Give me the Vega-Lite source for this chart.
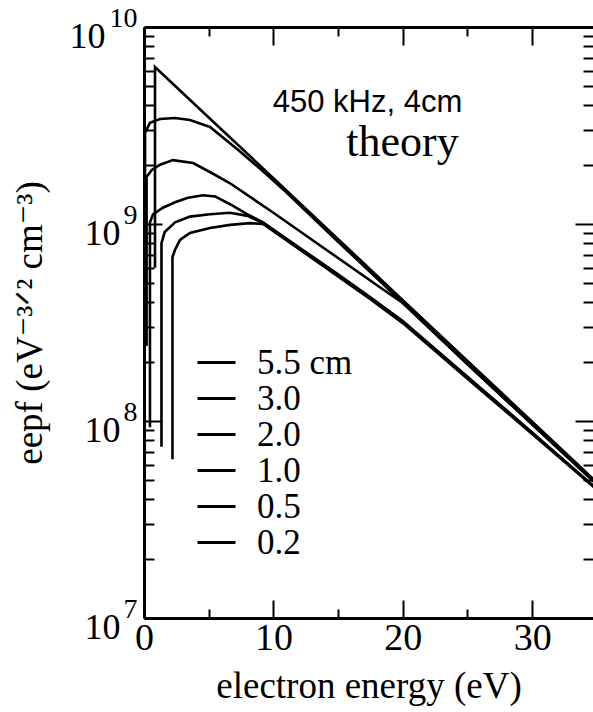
{
  "$schema": "https://vega.github.io/schema/vega-lite/v6.json",
  "autosize": {"type": "none"},
  "padding": {"left": 144, "top": 27, "right": 0, "bottom": 94},
  "width": 449,
  "height": 591,
  "background": "white",
  "config": {"view": {"stroke": null}, "axis": {"grid": false, "labelFlush": false, "tickColor": "black", "domainColor": "black", "labelColor": "black", "titleColor": "black", "labelOverlap": false}},
  "data": {"values": [
    {"series": "5.5 cm", "i": 0, "energy": 0.85, "eepf": 6.0e8},
    {"series": "5.5 cm", "i": 1, "energy": 0.85, "eepf": 6.27e9},
    {"series": "5.5 cm", "i": 2, "energy": 5, "eepf": 3.47e9},
    {"series": "5.5 cm", "i": 3, "energy": 10, "eepf": 1.71e9},
    {"series": "5.5 cm", "i": 4, "energy": 15, "eepf": 8.38e8},
    {"series": "5.5 cm", "i": 5, "energy": 20, "eepf": 4.11e8},
    {"series": "5.5 cm", "i": 6, "energy": 25, "eepf": 2.02e8},
    {"series": "5.5 cm", "i": 7, "energy": 30, "eepf": 9.91e7},
    {"series": "5.5 cm", "i": 8, "energy": 35, "eepf": 4.88e7},
    {"series": "3.0", "i": 0, "energy": 0.08, "eepf": 2.5e8},
    {"series": "3.0", "i": 1, "energy": 0.08, "eepf": 2.9e9},
    {"series": "3.0", "i": 2, "energy": 0.46, "eepf": 3.26e9},
    {"series": "3.0", "i": 3, "energy": 1.24, "eepf": 3.41e9},
    {"series": "3.0", "i": 4, "energy": 2.4, "eepf": 3.45e9},
    {"series": "3.0", "i": 5, "energy": 3.55, "eepf": 3.37e9},
    {"series": "3.0", "i": 6, "energy": 5.1, "eepf": 3.11e9},
    {"series": "3.0", "i": 7, "energy": 7.4, "eepf": 2.34e9},
    {"series": "3.0", "i": 8, "energy": 9, "eepf": 1.9e9},
    {"series": "3.0", "i": 9, "energy": 11, "eepf": 1.45e9},
    {"series": "3.0", "i": 10, "energy": 15, "eepf": 8.13e8},
    {"series": "3.0", "i": 11, "energy": 20, "eepf": 3.98e8},
    {"series": "3.0", "i": 12, "energy": 25, "eepf": 1.95e8},
    {"series": "3.0", "i": 13, "energy": 30, "eepf": 9.66e7},
    {"series": "3.0", "i": 14, "energy": 35, "eepf": 4.79e7},
    {"series": "2.0", "i": 0, "energy": 0.2, "eepf": 2.4e8},
    {"series": "2.0", "i": 1, "energy": 0.2, "eepf": 1.73e9},
    {"series": "2.0", "i": 2, "energy": 0.6, "eepf": 1.88e9},
    {"series": "2.0", "i": 3, "energy": 1.24, "eepf": 2.0e9},
    {"series": "2.0", "i": 4, "energy": 2.24, "eepf": 2.11e9},
    {"series": "2.0", "i": 5, "energy": 3.79, "eepf": 2.04e9},
    {"series": "2.0", "i": 6, "energy": 5.2, "eepf": 1.82e9},
    {"series": "2.0", "i": 7, "energy": 6.65, "eepf": 1.61e9},
    {"series": "2.0", "i": 8, "energy": 10, "eepf": 1.14e9},
    {"series": "2.0", "i": 9, "energy": 14, "eepf": 7.47e8},
    {"series": "2.0", "i": 10, "energy": 18.2, "eepf": 4.79e8},
    {"series": "2.0", "i": 11, "energy": 20, "eepf": 3.97e8},
    {"series": "2.0", "i": 12, "energy": 25, "eepf": 1.94e8},
    {"series": "2.0", "i": 13, "energy": 30, "eepf": 9.6e7},
    {"series": "2.0", "i": 14, "energy": 35, "eepf": 4.76e7},
    {"series": "1.0", "i": 0, "energy": 0.46, "eepf": 9.3e7},
    {"series": "1.0", "i": 1, "energy": 0.46, "eepf": 1.02e9},
    {"series": "1.0", "i": 2, "energy": 0.7, "eepf": 1.12e9},
    {"series": "1.0", "i": 3, "energy": 1.46, "eepf": 1.21e9},
    {"series": "1.0", "i": 4, "energy": 2.4, "eepf": 1.29e9},
    {"series": "1.0", "i": 5, "energy": 3.4, "eepf": 1.36e9},
    {"series": "1.0", "i": 6, "energy": 4.56, "eepf": 1.4e9},
    {"series": "1.0", "i": 7, "energy": 5.5, "eepf": 1.38e9},
    {"series": "1.0", "i": 8, "energy": 6.65, "eepf": 1.26e9},
    {"series": "1.0", "i": 9, "energy": 8, "eepf": 1.12e9},
    {"series": "1.0", "i": 10, "energy": 9.2, "eepf": 1.02e9},
    {"series": "1.0", "i": 11, "energy": 12, "eepf": 7.6e8},
    {"series": "1.0", "i": 12, "energy": 15, "eepf": 5.55e8},
    {"series": "1.0", "i": 13, "energy": 17.47, "eepf": 4.26e8},
    {"series": "1.0", "i": 14, "energy": 20, "eepf": 3.22e8},
    {"series": "1.0", "i": 15, "energy": 25, "eepf": 1.68e8},
    {"series": "1.0", "i": 16, "energy": 30, "eepf": 8.75e7},
    {"series": "1.0", "i": 17, "energy": 35, "eepf": 4.52e7},
    {"series": "0.5", "i": 0, "energy": 1.35, "eepf": 7.4e7},
    {"series": "0.5", "i": 1, "energy": 1.35, "eepf": 8.0e8},
    {"series": "0.5", "i": 2, "energy": 1.6, "eepf": 9.1e8},
    {"series": "0.5", "i": 3, "energy": 2.4, "eepf": 1.02e9},
    {"series": "0.5", "i": 4, "energy": 3.55, "eepf": 1.09e9},
    {"series": "0.5", "i": 5, "energy": 5.1, "eepf": 1.12e9},
    {"series": "0.5", "i": 6, "energy": 6.65, "eepf": 1.14e9},
    {"series": "0.5", "i": 7, "energy": 8, "eepf": 1.1e9},
    {"series": "0.5", "i": 8, "energy": 9.2, "eepf": 1.01e9},
    {"series": "0.5", "i": 9, "energy": 12, "eepf": 7.5e8},
    {"series": "0.5", "i": 10, "energy": 15, "eepf": 5.47e8},
    {"series": "0.5", "i": 11, "energy": 17.47, "eepf": 4.2e8},
    {"series": "0.5", "i": 12, "energy": 20, "eepf": 3.18e8},
    {"series": "0.5", "i": 13, "energy": 25, "eepf": 1.66e8},
    {"series": "0.5", "i": 14, "energy": 30, "eepf": 8.68e7},
    {"series": "0.5", "i": 15, "energy": 35, "eepf": 4.5e7},
    {"series": "0.2", "i": 0, "energy": 2.2, "eepf": 6.4e7},
    {"series": "0.2", "i": 1, "energy": 2.2, "eepf": 6.8e8},
    {"series": "0.2", "i": 2, "energy": 2.4, "eepf": 7.4e8},
    {"series": "0.2", "i": 3, "energy": 2.78, "eepf": 8.3e8},
    {"series": "0.2", "i": 4, "energy": 3.55, "eepf": 9.0e8},
    {"series": "0.2", "i": 5, "energy": 5.1, "eepf": 9.55e8},
    {"series": "0.2", "i": 6, "energy": 6.65, "eepf": 9.9e8},
    {"series": "0.2", "i": 7, "energy": 8.2, "eepf": 1.01e9},
    {"series": "0.2", "i": 8, "energy": 9.2, "eepf": 1.0e9},
    {"series": "0.2", "i": 9, "energy": 12, "eepf": 7.45e8},
    {"series": "0.2", "i": 10, "energy": 15, "eepf": 5.42e8},
    {"series": "0.2", "i": 11, "energy": 17.47, "eepf": 4.16e8},
    {"series": "0.2", "i": 12, "energy": 20, "eepf": 3.14e8},
    {"series": "0.2", "i": 13, "energy": 25, "eepf": 1.64e8},
    {"series": "0.2", "i": 14, "energy": 30, "eepf": 8.6e7},
    {"series": "0.2", "i": 15, "energy": 35, "eepf": 4.48e7}
  ]},
  "resolve": {"scale": {"x": "shared", "y": "shared"}, "axis": {"x": "independent", "y": "independent"}},
  "layer": [
    {
      "mark": {"type": "line", "clip": true, "strokeWidth": 2.6, "color": "black"},
      "encoding": {
        "x": {"field": "energy", "type": "quantitative",
          "scale": {"domain": [0, 34.7], "nice": false, "zero": false},
          "axis": {"orient": "bottom", "values": [0, 10, 20, 30], "tickSize": -18, "tickWidth": 2, "domain": true, "domainWidth": 3,
            "labelFont": "Liberation Serif", "labelFontSize": 38, "labelPadding": 19,
            "title": "electron energy (eV)", "titleFont": "Liberation Serif", "titleFontSize": 37, "titleFontWeight": "normal", "titlePadding": 11}},
        "y": {"field": "eepf", "type": "quantitative",
          "scale": {"type": "log", "domain": [1e7, 1e10], "nice": false},
          "axis": {"orient": "left", "values": [1e7, 1e8, 1e9, 1e10], "tickSize": -18, "tickWidth": 2, "domain": true, "domainWidth": 3,
            "labelExpr": "'10'",
            "labelFont": "Liberation Serif", "labelFontSize": 36,
            "labelPadding": {"condition": {"test": "datum.value >= 1e10", "value": 57}, "value": 42},
            "labelOffset": 9,
            "title": "eepf (eV⁻³ᐟ² cm⁻³)", "titleFont": "Liberation Serif, DejaVu Serif", "titleFontSize": 37, "titleFontWeight": "normal", "titlePadding": 20}},
        "color": {"field": "series", "type": "nominal",
          "scale": {"domain": ["5.5 cm", "3.0", "2.0", "1.0", "0.5", "0.2"], "range": ["black", "black", "black", "black", "black", "black"]},
          "legend": {"orient": "none", "legendX": 55, "legendY": 318, "title": null, "symbolType": "M-2,0H2", "symbolSize": 361, "symbolStrokeWidth": 3,
            "labelFont": "Liberation Serif", "labelFontSize": 35, "labelColor": "black", "labelOffset": 23, "rowPadding": 0, "labelLimit": 300}},
        "order": {"field": "i", "type": "quantitative"}
      }
    },
    {
      "mark": {"type": "point", "opacity": 0},
      "encoding": {
        "x": {"field": "energy", "type": "quantitative",
          "axis": {"orient": "bottom", "values": [5, 15, 25], "tickSize": -9, "tickWidth": 2, "domain": false, "labels": false, "title": null}},
        "y": {"field": "eepf", "type": "quantitative",
          "axis": {"orient": "left", "values": [2e7, 3e7, 4e7, 5e7, 6e7, 7e7, 8e7, 9e7, 2e8, 3e8, 4e8, 5e8, 6e8, 7e8, 8e8, 9e8, 2e9, 3e9, 4e9, 5e9, 6e9, 7e9, 8e9, 9e9],
            "tickSize": -10, "tickWidth": 2, "domain": false, "labels": false, "title": null}}
      }
    },
    {
      "mark": {"type": "point", "opacity": 0},
      "encoding": {
        "x": {"field": "energy", "type": "quantitative",
          "axis": {"orient": "top", "values": [0, 10, 20, 30], "tickSize": -18, "tickWidth": 2, "domain": true, "domainWidth": 3, "labels": false, "title": null}},
        "y": {"field": "eepf", "type": "quantitative",
          "axis": {"orient": "left", "values": [1e7, 1e8, 1e9, 1e10], "ticks": false, "tickSize": 0, "domain": false,
            "labelExpr": "format(round(log(datum.value) / LN10), 'd')",
            "labelFont": "Liberation Serif", "labelFontSize": 28, "labelPadding": 7, "labelOffset": -9, "labelAlign": "right", "title": null}}
      }
    },
    {
      "mark": {"type": "point", "opacity": 0},
      "encoding": {
        "x": {"field": "energy", "type": "quantitative",
          "axis": {"orient": "top", "values": [5, 15, 25], "tickSize": -9, "tickWidth": 2, "domain": false, "labels": false, "title": null}},
        "y": {"field": "eepf", "type": "quantitative",
          "axis": {"orient": "right", "values": [1e7, 1e8, 1e9, 1e10], "tickSize": -18, "tickWidth": 2, "domain": false, "labels": false, "title": null}}
      }
    },
    {
      "mark": {"type": "point", "opacity": 0},
      "encoding": {
        "x": {"field": "energy", "type": "quantitative", "axis": null},
        "y": {"field": "eepf", "type": "quantitative",
          "axis": {"orient": "right", "values": [2e7, 3e7, 4e7, 5e7, 6e7, 7e7, 8e7, 9e7, 2e8, 3e8, 4e8, 5e8, 6e8, 7e8, 8e8, 9e8, 2e9, 3e9, 4e9, 5e9, 6e9, 7e9, 8e9, 9e9],
            "tickSize": -10, "tickWidth": 2, "domain": false, "labels": false, "title": null}}
      }
    },
    {
      "data": {"values": [{"note": "450 kHz, 4cm"}]},
      "mark": {"type": "text", "font": "Liberation Sans", "fontSize": 31, "align": "center", "baseline": "alphabetic", "color": "black"},
      "encoding": {
        "text": {"field": "note"},
        "x": {"datum": 17.27, "type": "quantitative", "axis": null},
        "y": {"datum": 3.71e9, "type": "quantitative", "axis": null}
      }
    },
    {
      "data": {"values": [{"note": "theory"}]},
      "mark": {"type": "text", "font": "Liberation Serif", "fontSize": 44, "align": "center", "baseline": "alphabetic", "color": "black"},
      "encoding": {
        "text": {"field": "note"},
        "x": {"datum": 19.98, "type": "quantitative", "axis": null},
        "y": {"datum": 2.21e9, "type": "quantitative", "axis": null}
      }
    }
  ]
}
